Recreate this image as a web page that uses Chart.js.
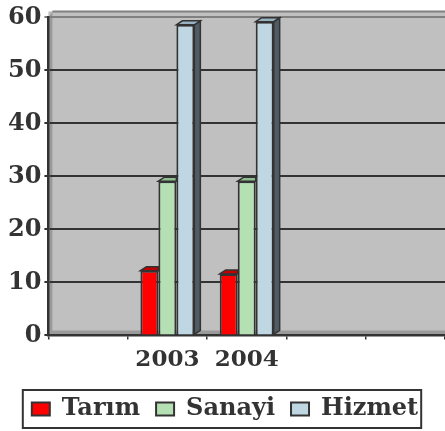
<!DOCTYPE html>
<html>
<head>
<meta charset="utf-8">
<script src="https://cdn.jsdelivr.net/npm/chart.js@4/dist/chart.umd.min.js"></script>
<style>
  html, body { margin: 0; padding: 0; background: #fff; }
  #wrap { width: 445px; height: 431px; }
</style>
</head>
<body>
<div id="wrap"><canvas id="canvas"></canvas></div>
<script>
var years = ["", "2003", "2004", "", ""];
var tarim = [null, 12.2, 11.6, null, null];
var sanayi = [null, 29.1, 29.1, null, null];
var hizmet = [null, 58.6, 59.2, null, null];
var yTicks = [0, 10, 20, 30, 40, 50, 60];

var ink = '#333333';
var depth = 6, lift = 4;

// gray walls, drawn before the grid so the lines stay on top
var wallPlugin = {
    id: 'walls',
    beforeDraw: function (chart) {
        var c = chart.ctx, a = chart.chartArea;
        c.save();
        c.fillStyle = '#c0c0c0';
        c.fillRect(a.left, a.top - 6, a.right - a.left, a.bottom - a.top + 6);
        c.fillStyle = '#9a9a9a';
        c.beginPath();
        c.moveTo(a.left, a.top);
        c.lineTo(a.left + depth - 2, a.top - 6);
        c.lineTo(a.left + depth - 2, a.bottom - lift);
        c.lineTo(a.left, a.bottom);
        c.closePath();
        c.fill();
        c.beginPath();
        c.moveTo(a.left, a.bottom);
        c.lineTo(a.left + depth - 2, a.bottom - lift - 1);
        c.lineTo(a.right, a.bottom - lift - 1);
        c.lineTo(a.right, a.bottom);
        c.closePath();
        c.fill();
        c.strokeStyle = '#808080';
        c.lineWidth = 2;
        c.beginPath();
        c.moveTo(a.left + depth - 2, a.top - 6);
        c.lineTo(a.right, a.top - 6);
        c.stroke();
        c.restore();
    }
};

// top and side faces for a simple 3D look
var depthPlugin = {
    id: 'depth',
    afterDatasetsDraw: function (chart) {
        var c = chart.ctx;
        var n = chart.data.datasets.length;
        c.save();
        c.lineWidth = 1.5;
        c.strokeStyle = ink;
        chart.data.datasets.forEach(function (ds, i) {
            var meta = chart.getDatasetMeta(i);
            meta.data.forEach(function (bar, j) {
                if (ds.data[j] == null) return;
                var p = bar.getProps(['x', 'y', 'base', 'width'], true);
                var l = p.x - p.width / 2, r = p.x + p.width / 2;
                var last = i === n - 1;
                if (last) {
                    c.fillStyle = '#4f5c63';
                    c.beginPath();
                    c.moveTo(r, p.y);
                    c.lineTo(r + depth, p.y - lift);
                    c.lineTo(r + depth, p.base - lift);
                    c.lineTo(r, p.base);
                    c.closePath();
                    c.fill();
                    c.stroke();
                }
                c.fillStyle = ds.topColor;
                c.beginPath();
                c.moveTo(l, p.y);
                c.lineTo(l + depth, p.y - lift);
                c.lineTo(last ? r + depth : r, p.y - lift);
                c.lineTo(r, p.y);
                c.closePath();
                c.fill();
                c.stroke();
            });
        });
        c.restore();
    }
};

// frame round the legend
var legendBox = {
    id: 'legendBox',
    afterDraw: function (chart) {
        var boxes = chart.legend.legendHitBoxes;
        if (!boxes || !boxes.length) return;
        var x0 = Infinity, x1 = -Infinity, y0 = Infinity, y1 = -Infinity;
        boxes.forEach(function (b) {
            x0 = Math.min(x0, b.left);
            x1 = Math.max(x1, b.left + b.width);
            y0 = Math.min(y0, b.top);
            y1 = Math.max(y1, b.top + b.height);
        });
        var c = chart.ctx;
        c.save();
        c.strokeStyle = ink;
        c.lineWidth = 2;
        c.strokeRect(x0 - 9, y0 - 7, x1 - x0 + 12, y1 - y0 + 14);
        c.restore();
    }
};

var serif = '"DejaVu Serif", "Liberation Serif", serif';

window.onload = function () {
    var ctx = document.getElementById("canvas").getContext("2d");
    window.myChart = new Chart(ctx, {
        type: 'bar',
        data: {
            labels: years,
            datasets: [{
                label: 'Tarım',
                data: tarim,
                backgroundColor: '#ff0000',
                topColor: '#c00000'
            }, {
                label: 'Sanayi',
                data: sanayi,
                backgroundColor: '#b4e0b4',
                topColor: '#8fbf8f'
            }, {
                label: 'Hizmet',
                data: hizmet,
                backgroundColor: '#bfd7e3',
                topColor: '#98b3c0'
            }]
        },
        options: {
            responsive: true,
            maintainAspectRatio: false,
            animation: false,
            layout: { padding: { top: 10, right: 0, left: 5, bottom: 0 } },
            datasets: {
                bar: {
                    borderColor: ink,
                    borderWidth: 2,
                    categoryPercentage: 0.68,
                    barPercentage: 1,
                    skipNull: false
                }
            },
            scales: {
                x: {
                    grid: { drawOnChartArea: false, color: ink, tickLength: 4, lineWidth: 1.5 },
                    border: { color: ink, width: 2.5 },
                    ticks: {
                        color: ink, padding: 7,
                        font: { family: serif, size: 23, weight: 'bold' }
                    }
                },
                y: {
                    min: 0, max: 60,
                    afterBuildTicks: function (axis) {
                        axis.ticks = yTicks.map(function (v) { return { value: v }; });
                    },
                    grid: {
                        color: function (c) { return c.tick && c.tick.value === 60 ? '#808080' : ink; },
                        lineWidth: 2,
                        tickLength: 4
                    },
                    border: { color: ink, width: 2.5 },
                    ticks: {
                        color: ink, padding: 3,
                        font: { family: serif, size: 24, weight: 'bold' }
                    }
                }
            },
            plugins: {
                title: { display: false },
                tooltip: { enabled: false },
                legend: {
                    position: 'bottom',
                    labels: {
                        color: ink,
                        boxWidth: 18,
                        boxHeight: 13,
                        padding: 16,
                        font: { family: serif, size: 24, weight: 'bold' },
                        generateLabels: function (chart) {
                            return chart.data.datasets.map(function (ds, i) {
                                return {
                                    text: ds.label,
                                    fillStyle: ds.backgroundColor,
                                    strokeStyle: ink,
                                    lineWidth: 2,
                                    fontColor: ink,
                                    datasetIndex: i
                                };
                            });
                        }
                    }
                }
            }
        },
        plugins: [wallPlugin, depthPlugin, legendBox]
    });
};
</script>
</body>
</html>
